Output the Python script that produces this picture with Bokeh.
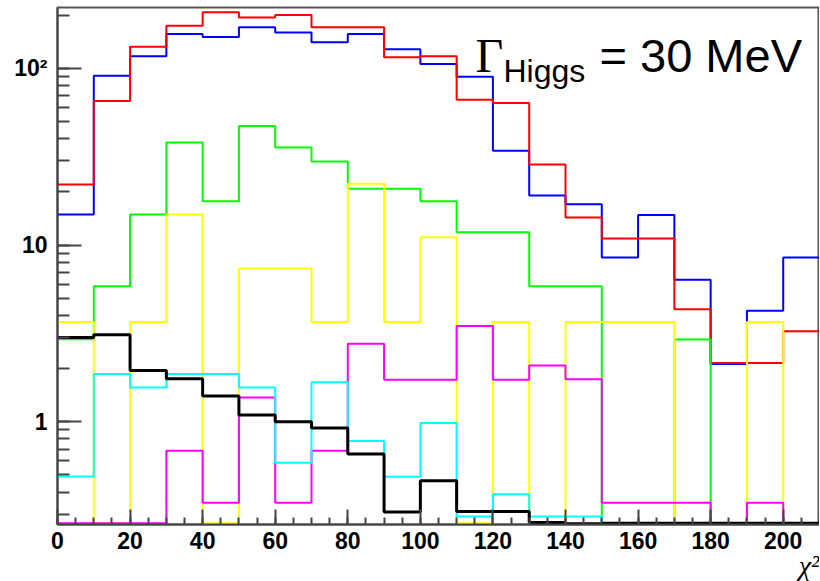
from bokeh.plotting import figure
from bokeh.models import Range1d, LogTicker, SingleIntervalTicker, Label, Title
from bokeh.embed import file_html
from bokeh.resources import INLINE

# bin edges (chi^2), 10-unit bins from 0 to 210
bin_edges = list(range(0, 211, 10))

red = [22.0, 65.3, 132.7, 174.5, 207.6, 193.8, 200.5, 170.7, 170.7, 115.4, 117.0,
       66.5, 63.6, 28.6, 14.3, 10.9, 10.9, 4.33, 2.15, 2.15, 3.25]
blue = [14.9, 90.9, 117.0, 156.5, 150.4, 170.7, 159.3, 140.4, 156.5, 128.1, 105.8,
        89.7, 34.2, 19.1, 17.0, 8.5, 14.8, 6.37, 2.12, 4.24, 8.5]
green = [2.93, 5.84, 14.9, 38.1, 17.7, 47.1, 35.7, 29.7, 20.8, 20.8, 17.7,
         11.8, 11.8, 5.84, 5.84, 0, 0, 2.92, 0, 0, 0]
yellow = [3.67, 0, 3.67, 14.9, 0, 7.36, 7.36, 3.67, 22.2, 3.67, 11.08,
          0, 3.67, 0, 3.67, 3.67, 3.67, 0, 0, 3.67, 0]
magenta = [0, 0, 0, 0.685, 0.348, 1.37, 0.348, 0.685, 2.76, 1.73, 1.73,
           3.48, 1.73, 2.08, 1.74, 0.348, 0.348, 0.348, 0, 0.348, 0]
cyan = [0.49, 1.86, 1.56, 1.86, 1.86, 1.56, 0.586, 1.67, 0.778, 0.488, 0.983,
        0.291, 0.388, 0.291, 0.291, 0, 0, 0, 0, 0, 0]
black = [3.0, 3.11, 1.95, 1.75, 1.40, 1.09, 1.0, 0.92, 0.656, 0.308, 0.463,
         0.31, 0.31, 0.269, 0.265, 0, 0, 0, 0, 0, 0]

y_tick_labels = {1: "1", 10: "10", 100: "10²"}

Y_MIN, Y_MAX = 0.262, 221.0
FLOOR = 0.266  # empty bins are drawn at the bottom of the frame, as in ROOT

p = figure(width=819, height=581, x_range=Range1d(0, 210), y_range=Range1d(Y_MIN, Y_MAX),
           y_axis_type="log", output_backend="svg", toolbar_location=None,
           min_border_left=57, min_border_right=0, min_border_top=7, min_border_bottom=57)
p.background_fill_color = "white"
p.border_fill_color = "white"
p.outline_line_color = "#555555"
p.outline_line_width = 2
p.xgrid.visible = False
p.ygrid.visible = False

series = [(blue, "#0000ff", 2), (red, "#ff0000", 2), (green, "#00ff00", 2),
          (yellow, "#ffff00", 2), (magenta, "#ff00ff", 2), (cyan, "#00ffff", 2),
          (black, "#000000", 3)]
for vals, col, lw in series:
    yv = [v if v > 0 else FLOOR for v in vals]
    yv = yv + [yv[-1]]
    p.step(x=bin_edges, y=yv, mode="after", line_color=col, line_width=lw)

# x axis
xa = p.xaxis[0]
xa.ticker = SingleIntervalTicker(interval=20, num_minor_ticks=4)
xa.major_tick_in = 15
xa.major_tick_out = 0
xa.minor_tick_in = 7
xa.minor_tick_out = 0
xa.axis_line_color = "#444444"
xa.axis_line_width = 2
xa.major_tick_line_color = "#444444"
xa.major_tick_line_width = 2
xa.minor_tick_line_color = "#444444"
xa.minor_tick_line_width = 2
xa.major_label_text_font = "Liberation Sans"
xa.major_label_text_font_style = "bold"
xa.major_label_text_font_size = "23px"
xa.major_label_text_color = "black"
xa.major_label_standoff = 7

# x axis title, right-aligned under the axis
p.add_layout(Title(text="χ²", align="right", text_font="Liberation Serif",
                   text_font_style="italic", text_font_size="28px", text_color="black",
                   standoff=-8, offset=0), "below")

# y axis
ya = p.yaxis[0]
ya.ticker = LogTicker(num_minor_ticks=10)
ya.major_label_overrides = y_tick_labels
ya.major_tick_in = 24
ya.major_tick_out = 0
ya.minor_tick_in = 12
ya.minor_tick_out = 0
ya.axis_line_color = "#444444"
ya.axis_line_width = 2
ya.major_tick_line_color = "#444444"
ya.major_tick_line_width = 2
ya.minor_tick_line_color = "#444444"
ya.minor_tick_line_width = 2
ya.major_label_text_font = "Liberation Sans"
ya.major_label_text_font_style = "bold"
ya.major_label_text_font_size = "23px"
ya.major_label_text_color = "black"
ya.major_label_standoff = 10

# annotations (screen units relative to the frame's bottom-left corner)
p.add_layout(Label(x=418, y=469, x_units="screen", y_units="screen", text="Γ",
                   text_font="Liberation Serif", text_font_size="48px",
                   text_baseline="alphabetic", text_align="left", text_color="black"))
p.add_layout(Label(x=446, y=454, x_units="screen", y_units="screen", text="Higgs",
                   text_font="Liberation Sans", text_font_size="32px",
                   text_baseline="alphabetic", text_align="left", text_color="black"))
p.add_layout(Label(x=542, y=469, x_units="screen", y_units="screen", text="= 30 MeV",
                   text_font="Liberation Sans", text_font_size="47px",
                   text_baseline="alphabetic", text_align="left", text_color="black"))

open("out.html", "w").write(file_html(p, INLINE))
